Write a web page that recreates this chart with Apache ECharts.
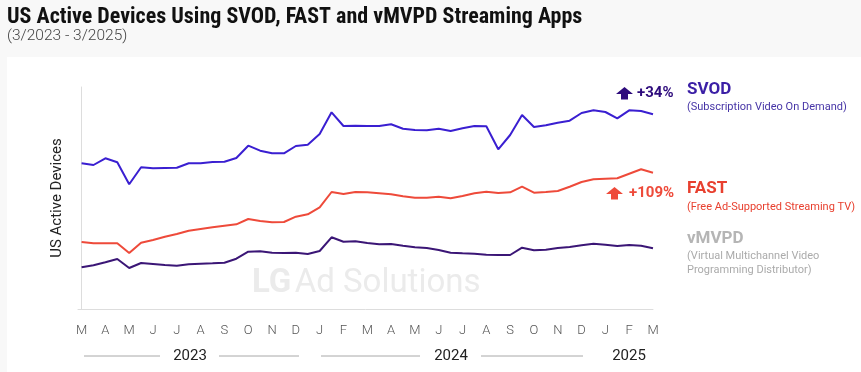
<!DOCTYPE html>
<html>
<head>
<meta charset="utf-8">
<script src="https://cdn.jsdelivr.net/npm/echarts@6/dist/echarts.min.js"></script>
<style>
html,body{margin:0;padding:0;background:#f8f8f8;}
#chart{width:861px;height:372px;}
</style>
</head>
<body>
<div id="chart"></div>
<script>
// Semi-monthly observations, Mar 2023 – Mar 2025 (49 points), relative index values
const monthLabels = ['M','A','M','J','J','A','S','O','N','D','J','F','M','A','M','J','J','A','S','O','N','D','J','F','M'];
const yearLabels = ['2023','2024','2025'];
const svod = [145.7,144,150.7,146.7,124.7,141.7,140.7,141,141.3,145.7,145.7,147,147.3,151,163.3,158.3,155.7,155.7,163,164.3,175,196.7,183,183.3,183,183,184.7,180.3,179,178.7,180.3,178,180.7,183,182.7,159.7,174,194,182,183.7,186.3,188.3,196,198.7,197,190.7,198.7,198,194.7];
const fast = [67,65.7,65.7,65.7,56,66.3,69,72.3,75,78.3,80,81.7,83.3,84.7,90,88,86.7,87,92.3,94.7,101.7,117,115,117,116.7,115.7,114.7,112.7,111.3,111.3,112.3,110.7,113,115.7,117.3,116,116.7,122.3,116.3,117,118,122.3,127,129.7,130.3,130.7,135.3,139.7,136.3];
const vmvpd = [41.7,43.7,46.7,50,41,46,45,44,43.3,44.7,45.3,45.7,46.3,50.3,57.3,57.7,56.3,56,56.3,55,58,71.7,67.3,67.7,66,64.7,65,63.3,61.7,61,59,56.3,55.7,55.3,54.3,54,54,61.3,58.7,59.3,61,62,63.7,65.3,64.3,63,64,63.3,60.7];
const growth = {svod:'+34%', fast:'+109%'};

const toPairs = arr => arr.map((v,i)=>[i,v]);
const monthTicks = monthLabels.map((_,k)=>k*2);

const chart = echarts.init(document.getElementById('chart'));
const F = 'Roboto, "Noto Sans", sans-serif';

function upArrow(cx, top, color){
  return {type:'polygon', z:10, shape:{points:[[cx,top],[cx+8.5,top+7],[cx+3.5,top+7],[cx+3.5,top+12.5],[cx-3.5,top+12.5],[cx-3.5,top+7],[cx-8.5,top+7]]}, style:{fill:color}};
}
function txt(x,y,text,style){
  return {type:'text', x:x, y:y, z:10, style:Object.assign({text:text, fontFamily:F, verticalAlign:'middle'}, style)};
}

chart.setOption({
  backgroundColor:'#f8f8f8',
  animation:false,
  grid:{left:78, right:208, top:87, bottom:63},
  xAxis:{
    type:'value', min:-0.3, max:48,
    splitLine:{show:false},
    axisLine:{show:true, lineStyle:{color:'#dddddd', width:1}},
    axisTick:{show:false},
    axisLabel:{customValues:monthTicks, formatter:v=>monthLabels[Math.round(v/2)], color:'#555', fontFamily:F, fontSize:13, fontWeight:300, margin:15}
  },
  yAxis:{
    type:'value', min:0, max:222,
    name:'US Active Devices', nameLocation:'middle', nameGap:13,
    nameTextStyle:{color:'#222', fontFamily:F, fontSize:15},
    splitLine:{show:false},
    axisLine:{show:true, lineStyle:{color:'#dddddd', width:1}},
    axisTick:{show:false},
    axisLabel:{show:false}
  },
  series:[
    {name:'SVOD', type:'line', data:toPairs(svod), symbol:'none', lineStyle:{color:'#3a1fd1', width:2}, z:5},
    {name:'FAST', type:'line', data:toPairs(fast), symbol:'none', lineStyle:{color:'#ee4a3a', width:2}, z:5},
    {name:'vMVPD', type:'line', data:toPairs(vmvpd), symbol:'none', lineStyle:{color:'#3b1676', width:2}, z:5}
  ],
  graphic:[
    {type:'rect', z:-10, shape:{x:7,y:57,width:900,height:400}, style:{fill:'#ffffff'}},
    txt(7,17,'US Active Devices Using SVOD, FAST and vMVPD Streaming Apps',{fontFamily:'"Liberation Sans Narrow", "Roboto Condensed", Roboto, sans-serif', fontSize:22, fontWeight:'bold', fill:'#111'}),
    txt(7,36,'(3/2023 - 3/2025)',{fontSize:15.5, fontWeight:300, fill:'#444'}),
    {type:'text', x:252, y:284, z:1, style:{text:'{b|LG} {r|Ad Solutions}', verticalAlign:'middle', rich:{b:{fontFamily:F, fontSize:33, fontWeight:'bold', fill:'#ebebeb'}, r:{fontFamily:F, fontSize:33, fontWeight:400, fill:'#ebebeb'}}}},
    upArrow(624.5,87,'#2e0b7c'),
    txt(637,93,growth.svod,{fontSize:15, fontWeight:'bold', fill:'#2e0b7c'}),
    txt(687,90,'SVOD',{fontSize:17, fontWeight:'bold', fill:'#3b1fa6'}),
    txt(687,107,'(Subscription Video On Demand)',{fontSize:11, fill:'#4634a6'}),
    upArrow(614.5,187,'#ee4a3a'),
    txt(629,193,growth.fast,{fontSize:15, fontWeight:'bold', fill:'#ee4a3a'}),
    txt(687,189,'FAST',{fontSize:17, fontWeight:'bold', fill:'#e8402f'}),
    txt(687,207,'(Free Ad-Supported Streaming TV)',{fontSize:11, fill:'#e8402f'}),
    txt(687,239,'vMVPD',{fontSize:17, fontWeight:'bold', fill:'#b5b5b5'}),
    txt(687,256,'(Virtual Multichannel Video',{fontSize:11, fill:'#ababab'}),
    txt(687,270,'Programming Distributor)',{fontSize:11, fill:'#ababab'}),
    {type:'line', shape:{x1:84,y1:356,x2:160,y2:356}, style:{stroke:'#a8a8a8', lineWidth:1}},
    {type:'line', shape:{x1:219,y1:356,x2:299,y2:356}, style:{stroke:'#a8a8a8', lineWidth:1}},
    {type:'line', shape:{x1:321,y1:356,x2:420,y2:356}, style:{stroke:'#a8a8a8', lineWidth:1}},
    {type:'line', shape:{x1:481,y1:356,x2:583,y2:356}, style:{stroke:'#a8a8a8', lineWidth:1}},
    txt(190,356,yearLabels[0],{fontSize:15, fill:'#222', align:'center'}),
    txt(451,356,yearLabels[1],{fontSize:15, fill:'#222', align:'center'}),
    txt(629,356,yearLabels[2],{fontSize:15, fill:'#222', align:'center'})
  ]
});
</script>
</body>
</html>
